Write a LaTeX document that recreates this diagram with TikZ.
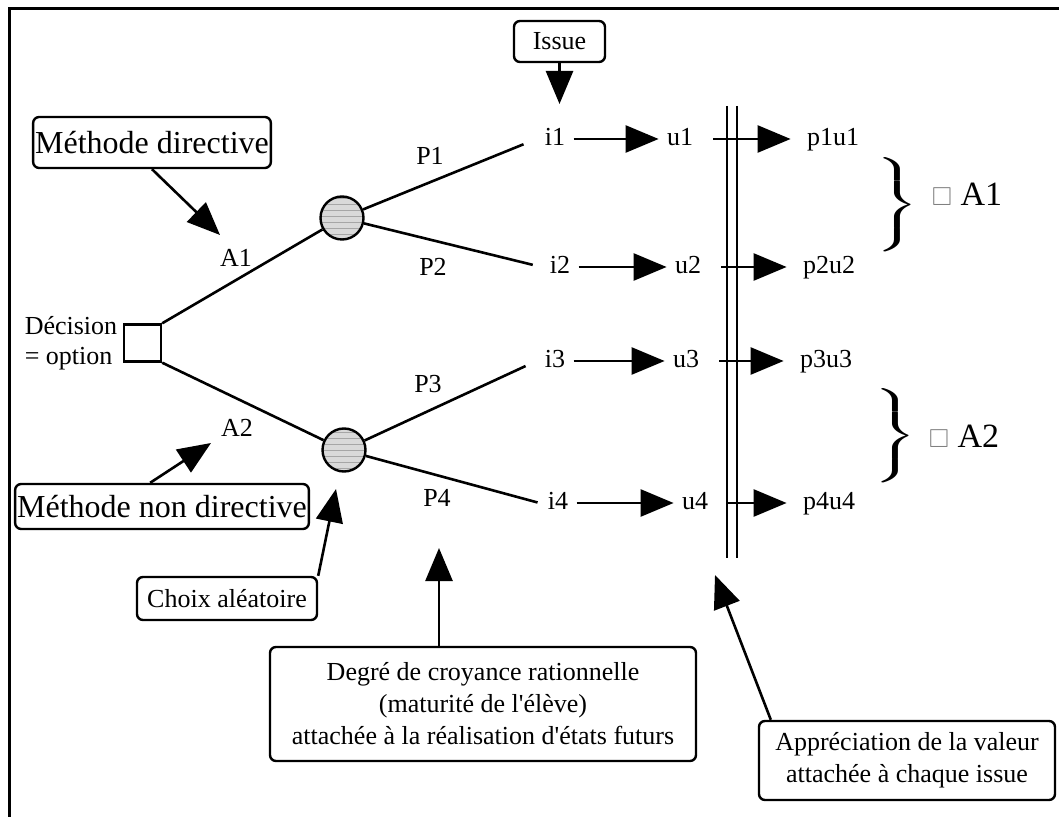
\documentclass[tikz,border=0pt]{standalone}
\usepackage{fontspec}
\setmainfont{Liberation Serif}
\usepackage{amssymb}
\usepackage{tikz}
\usetikzlibrary{arrows.meta,positioning,calc,patterns}

\begin{document}
\begin{tikzpicture}[
    x=0.5pt, y=-0.5pt,
    font=\fontsize{13}{16}\selectfont,
    callout/.style={draw, rounded corners=3pt, line width=1.2pt, align=center},
    chance/.style={circle, draw, line width=1.2pt, minimum size=21.5pt, inner sep=0pt, preaction={fill=gray!30}, pattern=horizontal lines, pattern color=gray!70},
    decision/.style={rectangle, draw, line width=1.2pt, minimum size=18.5pt, inner sep=0pt},
    lbl/.style={inner sep=4pt, text height=9pt, text depth=2.5pt},
    branch/.style={line width=1.3pt},
    arrow/.style={-{Triangle[length=16.5pt, width=13.5pt]}, line width=1.3pt}
]
\useasboundingbox (0,0) rectangle (1059,817);

% Frame
\draw[line width=1.5pt] (9,817) -- (9,9) -- (1059,9);

% Decision and chance nodes
\node[decision] (D) at (142.5,343) {};
\node[chance] (C1) at (342,218) {};
\node[chance] (C2) at (344,450) {};
\node[align=left, inner sep=0pt, font=\fontsize{13}{15}\selectfont] (Dlab) at (71,343) {Décision\\= option};

% Issues, utilities, products
\node[lbl] (i1) at (555,139) {i1};
\node[lbl] (i2) at (560,267) {i2};
\node[lbl] (i3) at (555,361) {i3};
\node[lbl] (i4) at (558,503) {i4};
\node[lbl] (u1) at (680,139) {u1};
\node[lbl] (u2) at (688,267) {u2};
\node[lbl] (u3) at (686,361) {u3};
\node[lbl] (u4) at (695,503) {u4};
\node[lbl] (pu1) at (833,139) {p1u1};
\node[lbl] (pu2) at (829,267) {p2u2};
\node[lbl] (pu3) at (826,361) {p3u3};
\node[lbl] (pu4) at (829,503) {p4u4};

% Branch labels
\node (A1) at (236,258) {A1};
\node (A2) at (237,428) {A2};
\node (P1) at (430,156) {P1};
\node (P2) at (433,267) {P2};
\node (P3) at (428,384) {P3};
\node (P4) at (437,498) {P4};

% Callouts
\node[callout, font=\fontsize{16}{19}\selectfont, inner xsep=1pt, minimum height=25.5pt] (dir) at (152,142.5) {Méthode directive};
\node[callout, font=\fontsize{16}{19}\selectfont, inner xsep=1pt, minimum height=22.5pt] (nondir) at (162,506.5) {Méthode non directive};
\node[callout, minimum width=90pt, minimum height=21.5pt] (alea) at (227,598.5) {Choix aléatoire};
\node[callout, minimum width=45.5pt, minimum height=20.5pt] (issue) at (559.5,41.5) {Issue};
\node[callout, minimum width=213pt, minimum height=57pt] (degre) at (483,704) {Degré de croyance rationnelle\\(maturité de l\textquotesingle élève)\\attachée à la réalisation d\textquotesingle états futurs};
\node[callout, minimum width=148pt, minimum height=39.5pt] (apprec) at (907,760.5) {Appréciation de la valeur\\attachée à chaque issue};

% Braces and results
\node (br1) at (895,207) {\scalebox{1.9}[1]{$\left.\vrule height 22.75pt depth 22.75pt width 0pt\right\}$}};
\node (br2) at (893,438) {\scalebox{1.9}[1]{$\left.\vrule height 22.75pt depth 22.75pt width 0pt\right\}$}};
\node[font=\fontsize{17}{20}\selectfont] (res1) at (967,194) {{\fontsize{13}{13}\selectfont\color{gray}$\square$} A1};
\node[font=\fontsize{17}{20}\selectfont] (res2) at (964,436) {{\fontsize{13}{13}\selectfont\color{gray}$\square$} A2};

% Edges - tree branches
\draw[branch] (D.north east) -- (C1);
\draw[branch] (D.south east) -- (C2);
\draw[branch, shorten >=7pt] (C1) -- (i1.west);
\draw[branch, shorten >=4.5pt] (C1) -- (i2.west);
\draw[branch, shorten >=6pt] (C2) -- (i3.west);
\draw[branch, shorten >=1pt] (C2) -- (i4.west);

% Edges - issue to value
\draw[arrow] (i1) -- (u1);
\draw[arrow] (i2) -- (u2);
\draw[arrow] (i3) -- (u3);
\draw[arrow] (i4) -- (u4);
\draw[arrow, shorten <=6pt, shorten >=4pt] (u1) -- (pu1);
\draw[arrow, shorten <=6pt, shorten >=4pt] (u2) -- (pu2);
\draw[arrow, shorten <=6pt, shorten >=4pt] (u3) -- (pu3);
\draw[arrow, shorten <=6pt, shorten >=4pt] (u4) -- (pu4);

% Double bar
\draw[line width=1.2pt] (727,106) -- (727,558);
\draw[line width=1.2pt] (737,106) -- (737,558);

% Edges - callouts
\coordinate (a1tip) at (220,235);
\coordinate (a2tip) at (211,443);
\coordinate (aleatip) at (336,489);
\coordinate (issuetip) at (559.5,104);
\coordinate (degretip) at (439,548);
\coordinate (appretip) at (715,575);
\draw[arrow] (dir.south) -- (a1tip);
\draw[arrow] ($(nondir.north west)!0.46!(nondir.north east)$) -- (a2tip);
\draw[arrow] (alea.north east) -- (aleatip);
\draw[arrow] (issue) -- (issuetip);
\draw[arrow] (degretip |- degre.north) -- (degretip);
\draw[arrow] ($(apprec.north west)+(13,0)$) -- (appretip);

\end{tikzpicture}
\end{document}
